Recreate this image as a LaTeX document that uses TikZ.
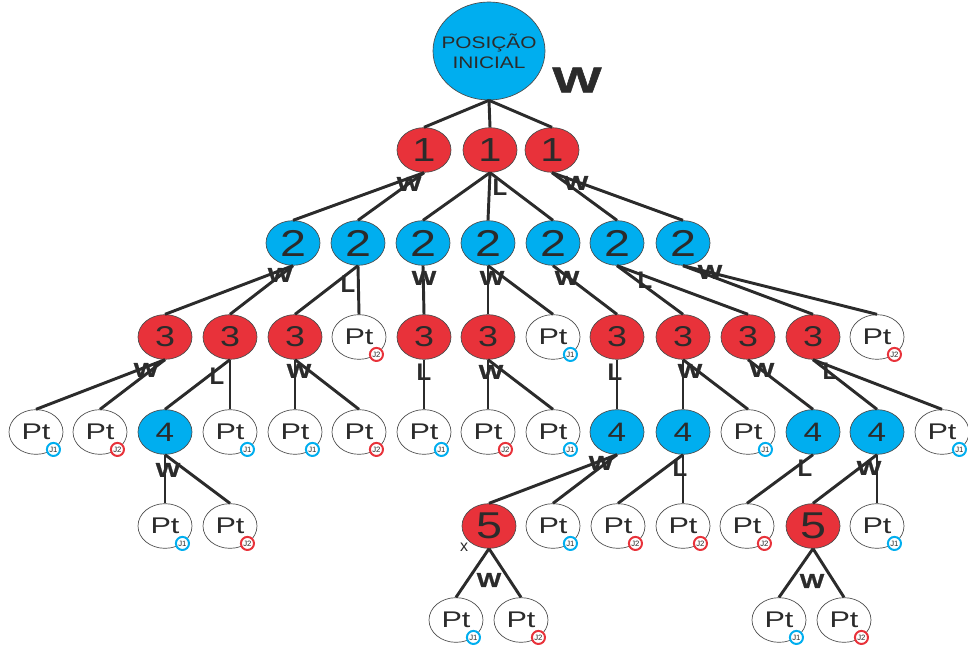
\documentclass[tikz,border=0pt]{standalone}
\usepackage{fontspec}
\setmainfont{Liberation Sans}[FakeStretch=1.25]
\newfontfamily\plainfont{Liberation Sans}
\newfontfamily\ptfont[FakeStretch=1.35]{Liberation Sans}
\newfontfamily\markfont[FakeStretch=1.3,FakeBold=1.2]{Liberation Sans}
\newfontfamily\bigmarkfont[FakeStretch=1.45,FakeBold=1.6]{Liberation Sans}
\usetikzlibrary{shapes.geometric}

\definecolor{moveblue}{HTML}{00AEEF}
\definecolor{movered}{HTML}{E8323A}
\definecolor{ink}{HTML}{2B2B2B}
\definecolor{rim}{HTML}{4A4A4A}

\tikzset{
  state/.style={ellipse, draw=rim, line width=0.5pt, minimum width=40.5pt,
    minimum height=33.5pt, inner sep=0pt, text=ink},
  bluestate/.style={state, fill=moveblue},
  redstate/.style={state, fill=movered},
  ptstate/.style={state, fill=white, font=\ptfont\fontsize{17}{17}\selectfont},
  badge/.style={circle, fill=white, line width=1.5pt, minimum size=9.8pt,
    inner sep=0pt, font=\plainfont\fontsize{5.8}{5.8}\selectfont, text=ink, anchor=center},
  jone/.style={ptstate, label={[badge, draw=moveblue]-45:J1}},
  jtwo/.style={ptstate, label={[badge, draw=movered]-45:J2}},
  fone/.style={font=\fontsize{25}{25}\selectfont},
  ftwo/.style={font=\fontsize{28}{28}\selectfont},
  fthree/.style={font=\fontsize{21.5}{21.5}\selectfont},
  ffour/.style={font=\fontsize{20}{20}\selectfont},
  ffive/.style={font=\fontsize{28}{28}\selectfont},
  link/.style={draw=ink, line width=2.2pt},
  wmark/.style={font=\markfont\bfseries\fontsize{15}{15}\selectfont, text=ink, inner sep=0pt},
  lmark/.style={font=\plainfont\bfseries\fontsize{18}{18}\selectfont, text=ink, inner sep=0pt},
}

\begin{document}
\begin{tikzpicture}[x=0.75pt, y=-0.75pt]
\useasboundingbox (0,0) rectangle (968,648);

% root
\node[ellipse, draw=rim, line width=0.5pt, fill=moveblue, minimum width=84pt,
  minimum height=73.5pt, inner sep=0pt, text=ink, align=center,
  font=\fontsize{12.5}{15}\selectfont] (root) at (489,51)
  {\makebox[0pt]{POSIÇÃO}\\\makebox[0pt]{INICIAL}};
\node[font=\bigmarkfont\bfseries\fontsize{27}{27}\selectfont, text=ink, inner sep=0pt] (wroot) at (577,80) {W};

% level 1
\node[redstate, fone] (a1) at (424,150) {1};
\node[redstate, fone] (b1) at (490,150) {1};
\node[redstate, fone] (c1) at (552,150) {1};

% level 2
\node[bluestate, ftwo] (a2) at (293,243) {2};
\node[bluestate, ftwo] (b2) at (358,243) {2};
\node[bluestate, ftwo] (c2) at (423,243) {2};
\node[bluestate, ftwo] (d2) at (488,243) {2};
\node[bluestate, ftwo] (e2) at (553,243) {2};
\node[bluestate, ftwo] (f2) at (617,243) {2};
\node[bluestate, ftwo] (g2) at (683,243) {2};

% level 3
\node[redstate, fthree] (a3) at (165,337) {3};
\node[redstate, fthree] (b3) at (230,337) {3};
\node[redstate, fthree] (c3) at (295,337) {3};
\node[jtwo] (d3) at (359,337) {Pt};
\node[redstate, fthree] (e3) at (424,337) {3};
\node[redstate, fthree] (f3) at (488,337) {3};
\node[jone] (g3) at (553,337) {Pt};
\node[redstate, fthree] (h3) at (617,337) {3};
\node[redstate, fthree] (i3) at (683,337) {3};
\node[redstate, fthree] (j3) at (748,337) {3};
\node[redstate, fthree] (k3) at (813,337) {3};
\node[jtwo] (l3) at (877,337) {Pt};

% level 4
\node[jone] (a4) at (36,432) {Pt};
\node[jtwo] (b4) at (100,432) {Pt};
\node[bluestate, ffour] (c4) at (165,432) {4};
\node[jone] (d4) at (230,432) {Pt};
\node[jone] (e4) at (295,432) {Pt};
\node[jtwo] (f4) at (359,432) {Pt};
\node[jone] (g4) at (424,432) {Pt};
\node[jtwo] (h4) at (488,432) {Pt};
\node[jone] (i4) at (553,432) {Pt};
\node[bluestate, ffour] (j4) at (617,432) {4};
\node[bluestate, ffour] (k4) at (683,432) {4};
\node[jone] (l4) at (748,432) {Pt};
\node[bluestate, ffour] (m4) at (813,432) {4};
\node[bluestate, ffour] (n4) at (877,432) {4};
\node[jone] (o4) at (942,432) {Pt};

% level 5
\node[jone] (a5) at (165,526) {Pt};
\node[jtwo] (b5) at (230,526) {Pt};
\node[redstate, ffive] (c5) at (489,526) {5};
\node[jone] (d5) at (553,526) {Pt};
\node[jtwo] (e5) at (618,526) {Pt};
\node[jtwo] (f5) at (683,526) {Pt};
\node[jtwo] (g5) at (747,526) {Pt};
\node[redstate, ffive] (h5) at (813,526) {5};
\node[jone] (i5) at (877,526) {Pt};

% level 6
\node[jone] (a6) at (456,620) {Pt};
\node[jtwo] (b6) at (521,620) {Pt};
\node[jone] (c6) at (779,620) {Pt};
\node[jtwo] (d6) at (844,620) {Pt};

\node[font=\plainfont\fontsize{12}{12}\selectfont, text=ink, inner sep=0pt] (xm) at (464,547) {x};

% move marks
\node[wmark] (mw1) at (409,184) {W};
\node[lmark] (ml1) at (500,187) {L};
\node[wmark] (mw2) at (576,183) {W};
\node[wmark] (mw3) at (280,275) {W};
\node[lmark] (ml2) at (348,284) {L};
\node[wmark] (mw4) at (424,278) {W};
\node[wmark] (mw5) at (492,278) {W};
\node[wmark] (mw6) at (567,278) {W};
\node[lmark] (ml3) at (645,280) {L};
\node[wmark] (mw7) at (710,272) {W};
\node[wmark] (mw8) at (146,370) {W};
\node[lmark] (ml4) at (217,376) {L};
\node[wmark] (mw9) at (299,371) {W};
\node[lmark] (ml5) at (424,372) {L};
\node[wmark] (mw10) at (491,372) {W};
\node[lmark] (ml6) at (615,372) {L};
\node[wmark] (mw11) at (690,371) {W};
\node[wmark] (mw12) at (762,370) {W};
\node[lmark] (ml7) at (830,371) {L};
\node[wmark] (mw13) at (168,470) {W};
\node[wmark] (mw14) at (601,463) {W};
\node[lmark] (ml8) at (680,468) {L};
\node[lmark] (ml9) at (805,468) {L};
\node[wmark] (mw15) at (869,468) {W};
\node[wmark] (mw16) at (489,580) {W};
\node[wmark] (mw17) at (812,581) {W};

% connectors
\foreach \p/\c in {root/a1, root/b1, root/c1,
  a1/a2, a1/b2, b1/c2, b1/d2, b1/e2, c1/f2, c1/g2,
  a2/a3, a2/b3, b2/c3, b2/d3, c2/e3, d2/f3, d2/g3, e2/h3, f2/i3, f2/j3, g2/k3, g2/l3,
  a3/a4, a3/b4, b3/c4, b3/d4, c3/e4, c3/f4, e3/g4, f3/h4, f3/i4, h3/j4, i3/k4, i3/l4,
  j3/m4, k3/n4, k3/o4,
  c4/a5, c4/b5, j4/c5, j4/d5, k4/e5, k4/f5, m4/g5, n4/h5, n4/i5,
  c5/a6, c5/b6, h5/c6, h5/d6}
  \draw[link] (\p.south) -- (\c.north);
\end{tikzpicture}
\end{document}
